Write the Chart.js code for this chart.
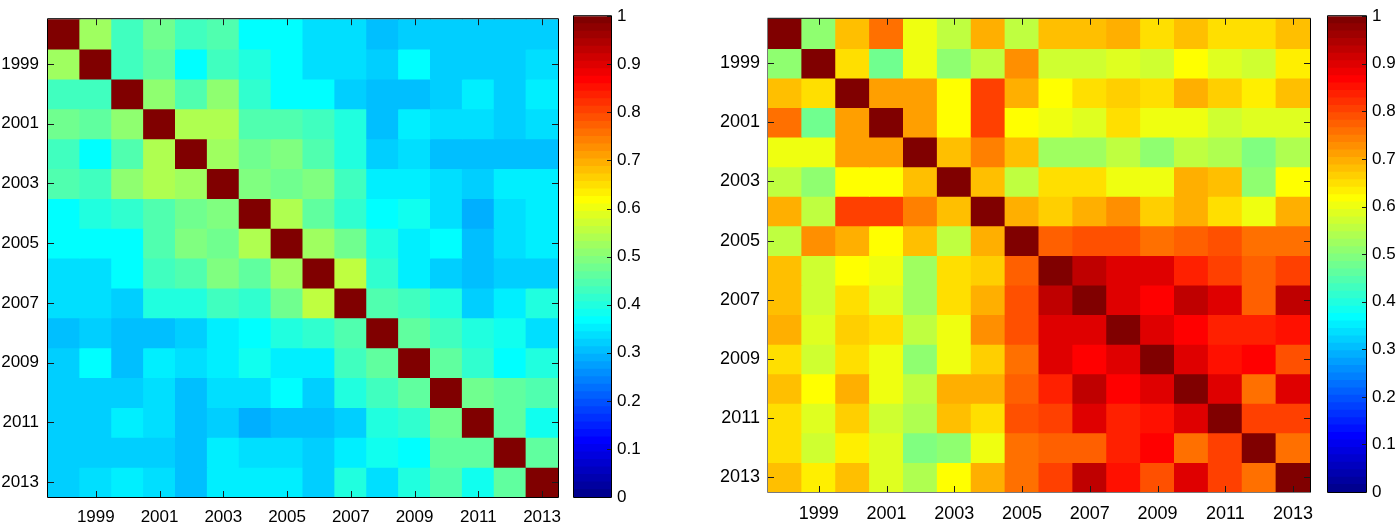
<!DOCTYPE html>
<html><head><meta charset="utf-8">
<script src="https://cdn.jsdelivr.net/npm/chart.js@4.4.1/dist/chart.umd.min.js"></script>
<style>
html,body{margin:0;padding:0;background:#fff;}
body{width:1397px;height:526px;position:relative;overflow:hidden;}
.box{position:absolute;top:0;height:526px;}
</style></head><body>
<div class="box" style="left:0;width:575px"><canvas id="c1"></canvas></div>
<div class="box" style="left:560px;width:100px"><canvas id="c2"></canvas></div>
<div class="box" style="left:690px;width:640px"><canvas id="c3"></canvas></div>
<div class="box" style="left:1310px;width:87px"><canvas id="c4"></canvas></div>
<script>
// ---------------- DATA ----------------
const years = [1998,1999,2000,2001,2002,2003,2004,2005,2006,2007,2008,2009,2010,2011,2012,2013];
const tickYears = [1999,2001,2003,2005,2007,2009,2011,2013];
const colorbarTicks = [0,0.1,0.2,0.3,0.4,0.5,0.6,0.7,0.8,0.9,1];

// Left matrix: upper triangle (row i, columns j>i); diagonal = 1, symmetric
const leftUpper = [
  [0.53,0.44,0.49,0.44,0.455,0.37,0.375,0.35,0.35,0.306,0.33,0.33,0.33,0.33,0.33],
  [0.44,0.47,0.375,0.44,0.41,0.37,0.35,0.35,0.33,0.375,0.33,0.33,0.33,0.34],
  [0.52,0.45,0.52,0.42,0.38,0.375,0.335,0.32,0.305,0.325,0.355,0.325,0.355],
  [0.55,0.55,0.45,0.45,0.43,0.41,0.305,0.355,0.34,0.34,0.33,0.34],
  [0.53,0.48,0.5,0.45,0.41,0.335,0.34,0.305,0.32,0.31,0.32],
  [0.5,0.48,0.5,0.43,0.355,0.355,0.34,0.33,0.36,0.365],
  [0.55,0.47,0.42,0.375,0.39,0.34,0.295,0.345,0.36],
  [0.53,0.49,0.41,0.355,0.37,0.31,0.34,0.36],
  [0.56,0.42,0.365,0.335,0.31,0.33,0.33],
  [0.45,0.44,0.41,0.335,0.355,0.4],
  [0.465,0.44,0.41,0.39,0.35],
  [0.465,0.425,0.375,0.4],
  [0.49,0.47,0.45],
  [0.465,0.39],
  [0.47]
];
// Right matrix: upper triangle
const rightUpper = [
  [0.52,0.68,0.765,0.61,0.57,0.70,0.57,0.68,0.68,0.70,0.66,0.69,0.66,0.66,0.69],
  [0.66,0.485,0.61,0.52,0.565,0.74,0.58,0.58,0.595,0.58,0.625,0.59,0.575,0.635],
  [0.72,0.72,0.625,0.82,0.70,0.63,0.655,0.675,0.655,0.705,0.665,0.645,0.69],
  [0.72,0.625,0.81,0.625,0.61,0.59,0.66,0.605,0.605,0.58,0.59,0.59],
  [0.69,0.75,0.68,0.53,0.53,0.56,0.52,0.57,0.54,0.5,0.55],
  [0.69,0.57,0.65,0.65,0.61,0.61,0.70,0.685,0.52,0.625],
  [0.70,0.675,0.705,0.73,0.665,0.70,0.66,0.61,0.70],
  [0.775,0.80,0.80,0.765,0.78,0.79,0.77,0.77],
  [0.93,0.9,0.9,0.84,0.81,0.785,0.815],
  [0.9,0.877,0.94,0.91,0.78,0.93],
  [0.913,0.875,0.845,0.845,0.855],
  [0.91,0.855,0.875,0.79],
  [0.91,0.76,0.9],
  [0.82,0.815],
  [0.77]
];

// ---------------- COLORMAP (MATLAB jet, 64 levels) ----------------
function jet(m) {
  const n = Math.ceil(m / 4);
  const u = [];
  for (let i = 1; i <= n; i++) u.push(i / n);
  for (let i = 0; i < n - 1; i++) u.push(1);
  for (let i = n; i >= 1; i--) u.push(i / n);
  const off = Math.ceil(n / 2) - (m % 4 === 1 ? 1 : 0);
  const J = Array.from({length: m}, () => [0, 0, 0]);
  for (let k = 0; k < u.length; k++) {
    const g = off + k + 1, r = g + n, b = g - n;
    if (g <= m) J[g - 1][1] = u[k];
    if (r <= m) J[r - 1][0] = u[k];
    if (b >= 1) J[b - 1][2] = u[k];
  }
  return J.map(c => `rgb(${Math.round(c[0]*255)},${Math.round(c[1]*255)},${Math.round(c[2]*255)})`);
}
const JET = jet(64);
function colorOf(v) {
  const i = Math.min(63, Math.max(0, Math.round(v * 64) - 1));
  return JET[i];
}
function fullMatrix(upper) {
  const n = years.length;
  const M = Array.from({length: n}, () => new Array(n).fill(1));
  upper.forEach((row, i) => row.forEach((v, k) => { const j = i + 1 + k; M[i][j] = v; M[j][i] = v; }));
  return M;
}

// ---------------- PLUGINS ----------------
const frame = {
  id: 'frame',
  afterDatasetsDraw(chart, args, o) {
    if (!o || !o.on) return;
    const {ctx, chartArea: a} = chart;
    const x = chart.scales.x, y = chart.scales.y;
    ctx.save();
    ctx.lineWidth = 1;
    ctx.strokeStyle = '#1a1a1a';
    ctx.beginPath();
    const L = o.tick;
    if (o.heat) {
      x.ticks.forEach(t => {
        const px = Math.round(x.getPixelForValue(t.value)) + 0.5;
        ctx.moveTo(px, a.top); ctx.lineTo(px, a.top + L);
        ctx.moveTo(px, a.bottom); ctx.lineTo(px, a.bottom - L);
      });
      y.ticks.forEach(t => {
        const py = Math.round(y.getPixelForValue(t.value)) + 0.5;
        ctx.moveTo(a.left, py); ctx.lineTo(a.left + L, py);
        ctx.moveTo(a.right, py); ctx.lineTo(a.right - L, py);
      });
    } else {
      y.ticks.forEach(t => {
        const py = Math.round(y.getPixelForValue(t.value)) + 0.5;
        ctx.moveTo(a.right, py); ctx.lineTo(a.right - L, py);
      });
    }
    ctx.stroke();
    const l = a.left - 0.5, r = a.right + 0.5, tp = a.top - 0.5, b = a.bottom + 0.5;
    ctx.strokeStyle = o.tr;
    ctx.beginPath(); ctx.moveTo(l, tp); ctx.lineTo(r, tp); ctx.lineTo(r, b); ctx.stroke();
    ctx.strokeStyle = o.bl;
    ctx.beginPath(); ctx.moveTo(l, tp); ctx.lineTo(l, b); ctx.lineTo(r, b); ctx.stroke();
    ctx.restore();
  }
};
Chart.register(frame);

const FAMILY = "'Liberation Sans', Arial, Helvetica, sans-serif";

function heatChart(id, M, cfg) {
  const datasets = years.map((yr, r) => ({
    data: years.map(xv => ({x: xv, y: [yr - 0.5, yr + 0.5]})),
    backgroundColor: years.map((_, c) => colorOf(M[r][c])),
    borderWidth: 0, barPercentage: 1, categoryPercentage: 1, grouped: false, inflateAmount: 0.5
  }));
  const font = {family: FAMILY, size: cfg.font};
  return new Chart(document.getElementById(id), {
    type: 'bar',
    data: {datasets},
    options: {
      responsive: true, maintainAspectRatio: false, animation: false,
      layout: {padding: {top: cfg.top, right: cfg.right, left: 0, bottom: 0}},
      plugins: {legend: {display: false}, tooltip: {enabled: false},
        frame: {on: true, heat: true, tick: 6, tr: '#000', bl: cfg.bl}},
      scales: {
        x: {type: 'linear', min: 1997.5, max: 2013.5, offset: false,
          grid: {display: false, drawTicks: false, tickLength: 0}, border: {display: false},
          afterBuildTicks: s => { s.ticks = tickYears.map(v => ({value: v})); },
          afterFit: s => { s.height = cfg.xh; },
          ticks: {padding: cfg.xpad, font, color: '#000', maxRotation: 0, autoSkip: false, callback: v => String(v)}},
        y: {type: 'linear', reverse: true, min: 1997.5, max: 2013.5,
          grid: {display: false, drawTicks: false, tickLength: 0}, border: {display: false},
          afterBuildTicks: s => { s.ticks = tickYears.map(v => ({value: v})); },
          afterFit: s => { s.width = cfg.yw; },
          ticks: {padding: cfg.ypad, font, color: '#000', autoSkip: false, callback: v => String(v)}}
      }
    }
  });
}

function colorbar(id, cfg) {
  const datasets = JET.map((col, k) => ({
    data: [[k / 64, (k + 1) / 64]], backgroundColor: col,
    borderWidth: 0, grouped: false, barPercentage: 1, categoryPercentage: 1, inflateAmount: 0.5
  }));
  return new Chart(document.getElementById(id), {
    type: 'bar',
    data: {labels: [''], datasets},
    options: {
      responsive: true, maintainAspectRatio: false, animation: false,
      layout: {padding: {top: cfg.top, bottom: cfg.bottom, left: cfg.left, right: 0}},
      plugins: {legend: {display: false}, tooltip: {enabled: false},
        frame: {on: true, heat: false, tick: 4, tr: '#000', bl: '#000'}},
      scales: {
        x: {display: false},
        y: {position: 'right', min: 0, max: 1,
          grid: {display: false, drawTicks: false, tickLength: 0}, border: {display: false},
          afterBuildTicks: s => { s.ticks = colorbarTicks.map(v => ({value: v})); },
          afterFit: s => { s.width = cfg.yw; },
          ticks: {padding: cfg.pad, font: {family: FAMILY, size: cfg.font}, color: '#000', callback: v => String(v)}}
      }
    }
  });
}

heatChart('c1', fullMatrix(leftUpper), {top: 5, right: 17, xh: 29, yw: 48, xpad: 10, ypad: 9, font: 17, bl: '#000'});
colorbar('c2', {top: 5, bottom: 29, left: 14, yw: 49, pad: 6, font: 17});
heatChart('c3', fullMatrix(rightUpper), {top: 6, right: 20, xh: 34, yw: 78, xpad: 11, ypad: 8, font: 18, bl: '#7a7a7a'});
colorbar('c4', {top: 6, bottom: 34, left: 18, yw: 31, pad: 6, font: 17});
</script>
</body></html>
